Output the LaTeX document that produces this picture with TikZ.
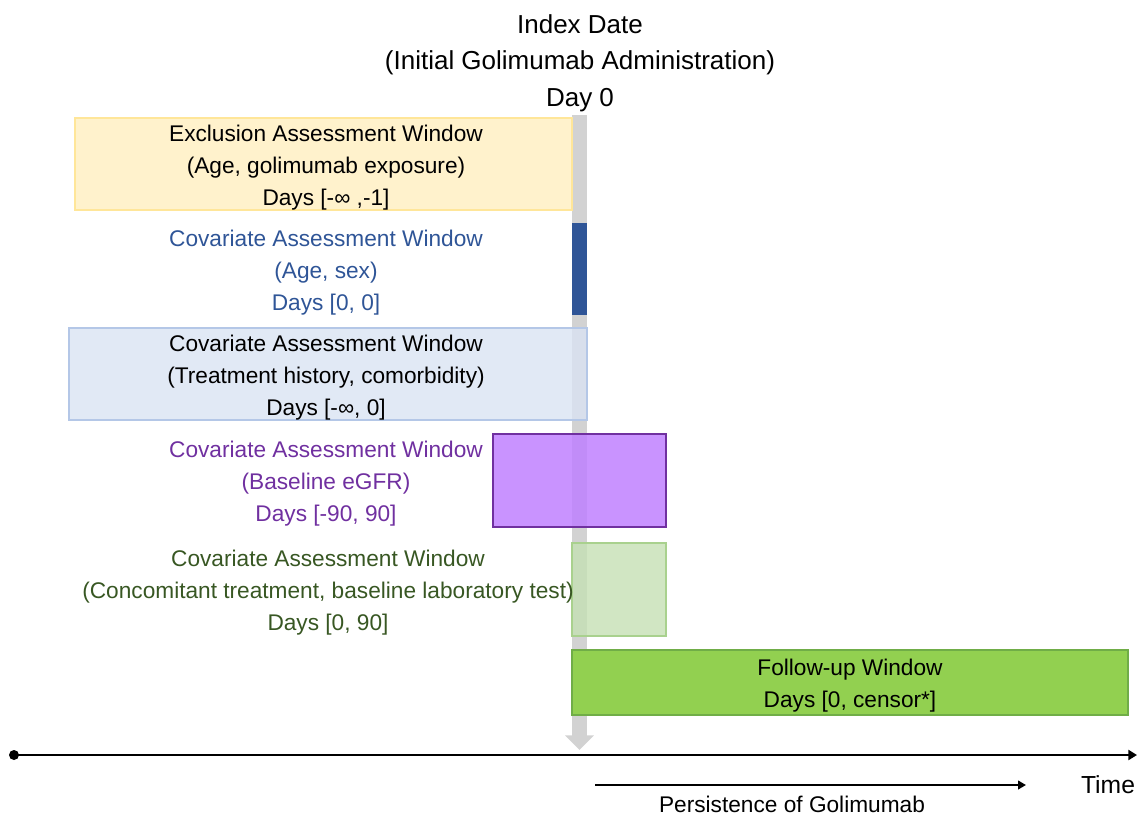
\documentclass[tikz,border=0pt]{standalone}
\usepackage{fontspec}
\setmainfont{Liberation Sans}
\usetikzlibrary{arrows.meta}

\definecolor{yelfill}{HTML}{FFF2CC}
\definecolor{yeldraw}{HTML}{FFE699}
\definecolor{darkblue}{HTML}{2F5597}
\definecolor{lbfill}{HTML}{DAE3F3}
\definecolor{lbdraw}{HTML}{B4C7E7}
\definecolor{purfill}{HTML}{BF80FF}
\definecolor{purtext}{HTML}{7030A0}
\definecolor{lgfill}{HTML}{C5E0B4}
\definecolor{lgdraw}{HTML}{A9D18E}
\definecolor{lgtext}{HTML}{385723}
\definecolor{fufill}{HTML}{92D050}
\definecolor{fudraw}{HTML}{70AD47}

\tikzset{
  winbox/.style={rectangle, inner sep=0pt, line width=0.8pt},
  wintext/.style={align=center, font=\fontsize{17}{24}\selectfont},
}

\begin{document}
\begin{tikzpicture}[x=0.75pt,y=-0.75pt]
\useasboundingbox (0,0) rectangle (1137,817);

\node[align=center, font=\fontsize{19.5}{27.4}\selectfont] (index) at (580,63)
  {Index Date\\(Initial Golimumab Administration)\\Day 0};

% fleche grise du jour 0
\coordinate (daytop) at (579.5,115);
\coordinate (daybot) at (579.5,750);
\draw[gray!35, line width=11.25pt, -{Triangle[width=21pt,length=11pt]}] (daytop) -- (daybot);

% fenetres
\node[winbox, draw=yeldraw, fill=yelfill, minimum width=372.75pt, minimum height=69pt] (excl) at (323.5,164) {};
\node[wintext] (excltxt) at (326,168) {Exclusion Assessment Window\\(Age, golimumab exposure)\\Days [-∞ ,-1]};

\node[winbox, fill=darkblue, minimum width=11.25pt, minimum height=69pt] (agebar) at (579.5,269) {};
\node[wintext, text=darkblue] (agetxt) at (326,273) {Covariate Assessment Window\\(Age, sex)\\Days [0, 0]};

\node[winbox, draw=lbdraw, fill=lbfill, fill opacity=0.8, minimum width=388.5pt, minimum height=69pt] (hist) at (328,374) {};
\node[wintext] (histtxt) at (326,378) {Covariate Assessment Window\\(Treatment history, comorbidity)\\Days [-∞, 0]};

\node[winbox, draw=purtext, fill=purfill, fill opacity=0.85, minimum width=129.75pt, minimum height=69.75pt] (egfr) at (579.5,480.5) {};
\node[wintext, text=purtext] (egfrtxt) at (326,484) {Covariate Assessment Window\\(Baseline eGFR)\\Days [-90, 90]};

\node[winbox, draw=lgdraw, fill=lgfill, fill opacity=0.8, minimum width=70.5pt, minimum height=69.75pt] (conc) at (619,589.5) {};
\node[wintext, text=lgtext] (conctxt) at (328,593) {Covariate Assessment Window\\(Concomitant treatment, baseline laboratory test)\\Days [0, 90]};

\node[winbox, draw=fudraw, fill=fufill, minimum width=417pt, minimum height=48.75pt] (follow) at (850,682.5) {};
\node[wintext] (followtxt) at (850,686) {Follow-up Window\\Days [0, censor*]};

% axe du temps
\coordinate (tstart) at (14,755);
\coordinate (tend) at (1137,755);
\fill (tstart) circle (3.75pt);
\draw[line width=2.1pt, -{Triangle[width=7.5pt,length=6.5pt]}] (tstart) -- (tend);
\node[font=\fontsize{18.5}{22}\selectfont] (time) at (1108,785) {Time};

\coordinate (pstart) at (595,785);
\coordinate (pend) at (1026,785);
\draw[line width=1.6pt, -{Triangle[width=6.5pt,length=6pt]}] (pstart) -- (pend);
\node[font=\fontsize{17}{22}\selectfont, inner sep=1pt] (persist) at (792,804) {Persistence of Golimumab};
\end{tikzpicture}
\end{document}
